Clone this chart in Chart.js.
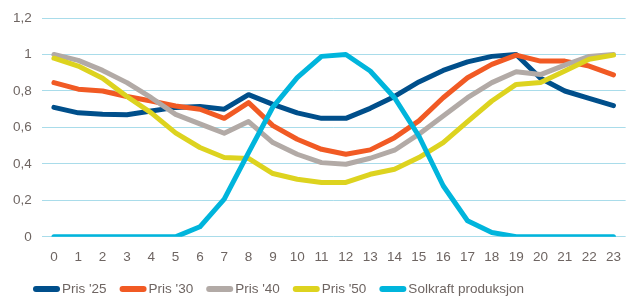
<!DOCTYPE html>
<html>
<head>
<meta charset="utf-8">
<script src="https://cdn.jsdelivr.net/npm/chart.js@4"></script>
<style>
  html, body { margin: 0; padding: 0; background: #fff; }
  #wrap { width: 633px; height: 297px; position: relative; }
</style>
</head>
<body>
<div id="wrap"><canvas id="chart"></canvas></div>
<script>
const hours = ["0","1","2","3","4","5","6","7","8","9","10","11","12","13","14","15","16","17","18","19","20","21","22","23"];
const yTicks = [0, 0.2, 0.4, 0.6, 0.8, 1, 1.2];

const pris25 = [0.71,0.68,0.672,0.67,0.69,0.71,0.715,0.70,0.78,0.727,0.68,0.65,0.65,0.705,0.77,0.85,0.913,0.96,0.99,1.0,0.87,0.80,0.76,0.72];
const pris30 = [0.846,0.81,0.80,0.77,0.745,0.718,0.70,0.65,0.736,0.61,0.535,0.48,0.453,0.477,0.544,0.636,0.763,0.873,0.946,0.997,0.964,0.964,0.937,0.888];
const pris40 = [1.0,0.968,0.913,0.846,0.763,0.672,0.62,0.568,0.632,0.517,0.453,0.407,0.398,0.431,0.475,0.563,0.663,0.763,0.846,0.906,0.89,0.942,0.99,1.0];
const pris50 = [0.98,0.937,0.87,0.77,0.68,0.57,0.49,0.435,0.43,0.347,0.316,0.298,0.298,0.343,0.371,0.435,0.517,0.632,0.745,0.836,0.846,0.91,0.974,0.997];
const solkraft = [0,0,0,0,0,0,0.055,0.207,0.462,0.712,0.873,0.99,1.0,0.91,0.763,0.553,0.28,0.088,0.024,0,0,0,0,0];

const FONT = "'Liberation Sans', Arial, sans-serif";
const TEXT = "#6e6562";

// legend drawn by hand so it sits where the original one does
const bottomLegend = {
  id: "bottomLegend",
  afterDraw(chart) {
    const ctx = chart.ctx;
    let x = 33;
    const y = 289;
    ctx.save();
    ctx.font = "13.5px " + FONT;
    ctx.textBaseline = "middle";
    ctx.textAlign = "left";
    chart.data.datasets.forEach((ds) => {
      ctx.strokeStyle = ds.borderColor;
      ctx.lineWidth = 6;
      ctx.lineCap = "round";
      ctx.beginPath();
      ctx.moveTo(x + 3, y);
      ctx.lineTo(x + 24, y);
      ctx.stroke();
      ctx.fillStyle = TEXT;
      ctx.fillText(ds.label, x + 29, y);
      x += 29 + ctx.measureText(ds.label).width + 13;
    });
    ctx.restore();
  }
};

function line(label, data, color, order) {
  return {
    label: label,
    data: data,
    borderColor: color,
    backgroundColor: color,
    borderWidth: 5,
    pointRadius: 0,
    tension: 0,
    fill: false,
    borderCapStyle: "round",
    borderJoinStyle: "round",
    order: order
  };
}

new Chart(document.getElementById("chart"), {
  type: "line",
  data: {
    labels: hours,
    datasets: [
      line("Pris '25", pris25, "#004f8b", 5),
      line("Pris '30", pris30, "#f15a24", 4),
      line("Pris '40", pris40, "#b2aaa6", 3),
      line("Pris '50", pris50, "#ddd31f", 2),
      line("Solkraft produksjon", solkraft, "#00b5dc", 1)
    ]
  },
  options: {
    responsive: true,
    maintainAspectRatio: false,
    animation: false,
    layout: { padding: { left: 3, right: 1, top: 10, bottom: 20 } },
    plugins: {
      legend: { display: false },
      tooltip: { enabled: false }
    },
    scales: {
      x: {
        offset: true,
        grid: { display: false, drawTicks: false },
        border: { display: false },
        ticks: {
          color: TEXT,
          font: { family: FONT, size: 13.5 },
          padding: 12,
          maxRotation: 0,
          autoSkip: false
        }
      },
      y: {
        min: yTicks[0],
        max: yTicks[yTicks.length - 1],
        afterBuildTicks: (axis) => { axis.ticks = yTicks.map((v) => ({ value: v })); },
        grid: { color: "#a9dcea", lineWidth: 1, drawTicks: false },
        border: { display: false },
        ticks: {
          color: TEXT,
          font: { family: FONT, size: 13.5 },
          padding: 10,
          callback: (v) => String(Math.round(v * 10) / 10).replace(".", ",")
        }
      }
    }
  },
  plugins: [bottomLegend]
});
</script>
</body>
</html>
